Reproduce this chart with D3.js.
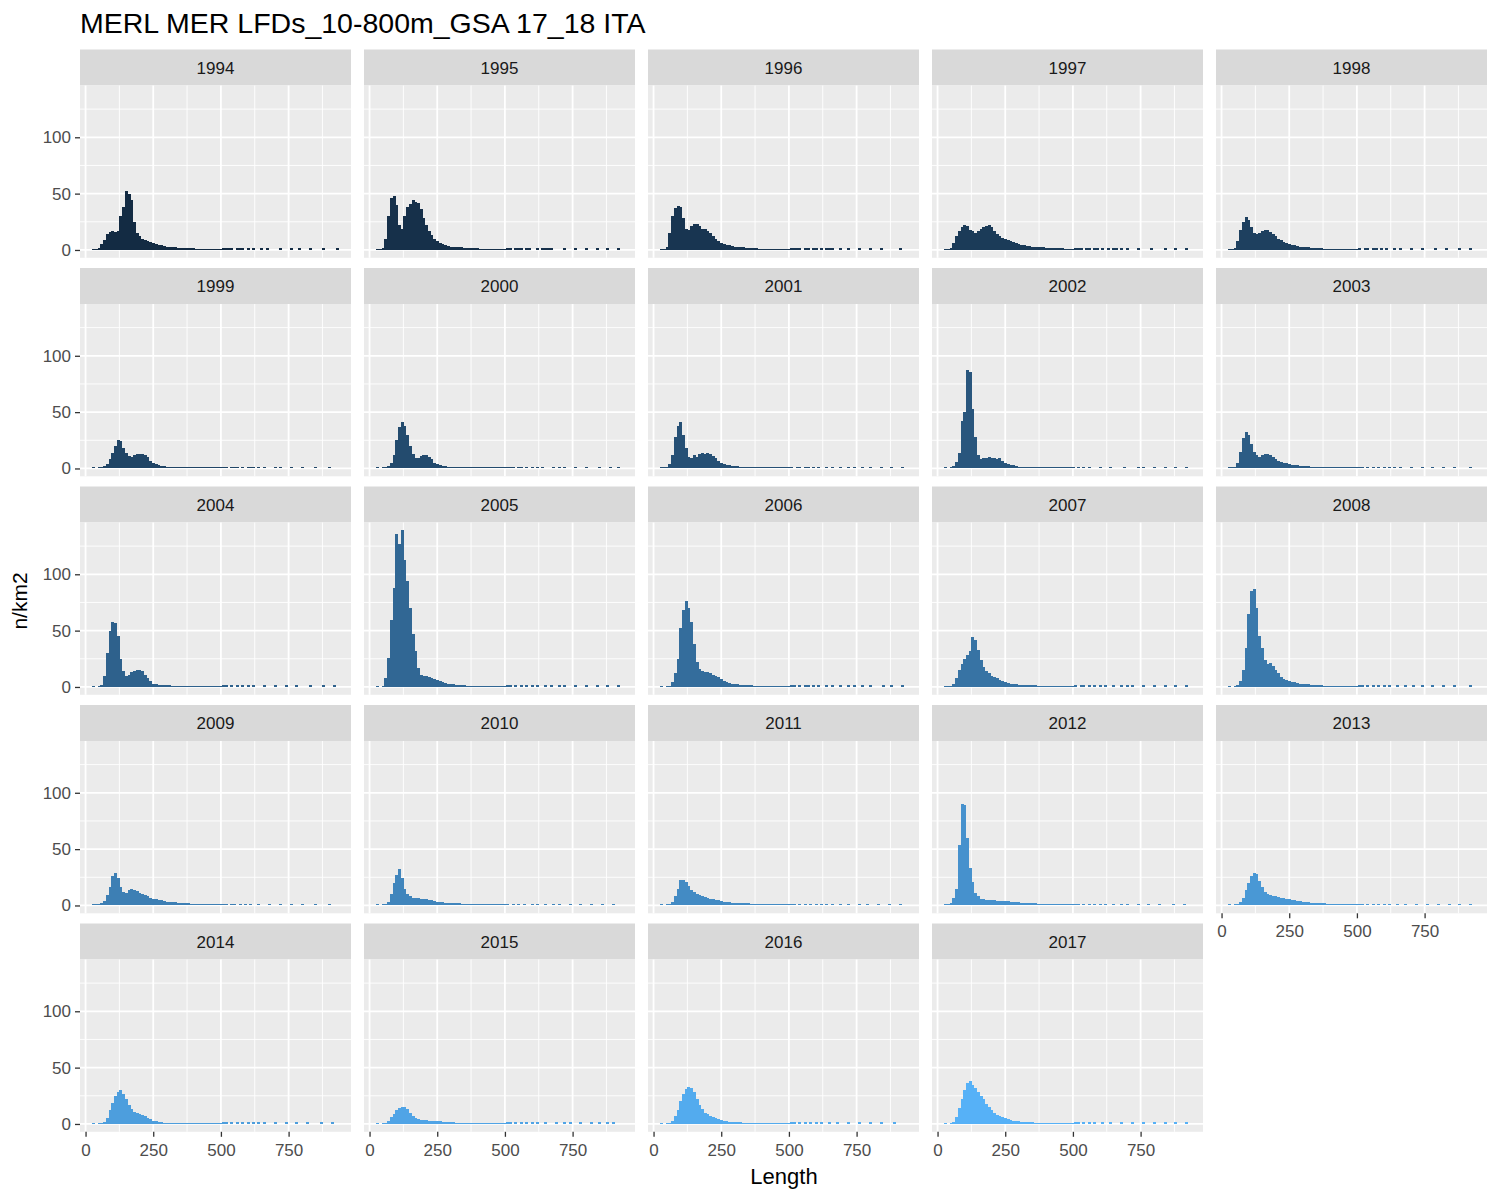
<!DOCTYPE html>
<html>

<head>
    <meta charset="utf-8">
    <style>
        body {
            margin: 0;
            background: white;
        }

        svg {
            font-family: 'Liberation Sans', Arial, sans-serif;
        }
    </style>
</head>

<body>
    <svg width="1500" height="1200"></svg>

<script src="https://d3js.org/d3.v7.min.js"></script>

<script>
    // length classes (mm, bin centres) of the continuous part of each LFD
    const bins = [30, 40, 50, 60, 70, 80, 90, 100, 110, 120, 130, 140, 150, 160, 170, 180,
        190, 200, 210, 220, 230, 240, 250, 260, 270, 280, 290, 300, 310, 320, 330, 340,
        350, 360, 370, 380, 390, 400, 410, 420, 430, 440, 450, 460, 470, 480, 490, 500]
    const binWidth = 10

    const years = [1994, 1995, 1996, 1997, 1998, 1999, 2000, 2001, 2002, 2003, 2004, 2005,
        2006, 2007, 2008, 2009, 2010, 2011, 2012, 2013, 2014, 2015, 2016, 2017]

    // n/km2 per length class
    const lf1994 = [1,1,2,5,9,14,16,17,16,17,30,38,52,50,44,25,15,12,10,9,8,7,6,5,4.5,4,3.5,3,2.7,2.4,2.2,2,1.9,1.8,1.7,1.6,1.5,1.4,1.3,1.2,1.2,1.1,1.1,1,1,1,1,1]
    const lf1995 = [1,1,2,10,30,46,48,40,22,19,30,38,41,44,43,42,36,28,22,17,13,10,8,6,5,4,3.5,3,3,2.8,2.5,2.2,2,2,1.8,1.6,1.5,1.4,1.3,1.2,1.2,1.1,1.1,1,1,1,1,1]
    const lf1996 = [1,1,3,15,30,37,39,38,28,19,18,21,23,23,21,19,19,17,15,12,10,8,6.5,5.5,4.5,4,3.5,3,2.8,2.5,2.2,2,1.8,1.6,1.5,1.4,1.3,1.2,1.1,1.1,1,1,1,1,1,1,1,1]
    const lf1997 = [1,1,2,6,12,17,20,22,21,18,17,15,17,19,20,21,22,20,17,14,12,11,10,9,8,7,6,5.5,4.5,4,3.5,3.2,3,2.8,2.6,2.4,2.2,2,2,1.8,1.7,1.6,1.5,1.4,1.3,1.2,1.1,1]
    const lf1998 = [1,1,2,8,18,25,29,27,20,15,14,15,17,18,18,16,14,12,10,8.5,7,6,5,4.5,4,3.5,3,2.7,2.5,2.2,2,1.8,1.6,1.5,1.4,1.3,1.2,1.1,1,1,1,1,1,1,1,1,1,1]
    const lf1999 = [1,0,1,1,2,4,8,14,20,25,24,18,14,11,10,12,13,13,13,12,10,7,5,4,3,2.5,2,1.6,1.4,1.2,1.1,1,1,1,1,1,1,1,1,1,1,1,1,1,1,1,1,1]
    const lf2000 = [1,0,1,1,2,5,12,25,37,41,38,30,20,13,9,9,11,12,12,10,8,5,4,3,2.5,2,1.6,1.3,1.2,1.1,1,1,1,1,1,1,1,1,1,1,1,1,1,1,1,1,1,1]
    const lf2001 = [1,1,1,4,12,28,38,41,30,18,10,9,12,10,13,14,13,14,13,11,9,7,5,4,3.5,3,2.5,2,1.8,1.6,1.5,1.4,1.3,1.2,1.1,1,1,1,1,1,1,1,1,1,1,1,1,1]
    const lf2002 = [1,0,1,2,6,14,42,50,87,86,53,28,12,8,9,9.5,10,9,9.5,8,9,7,5,4,3.5,3,2.5,1.5,1.2,1,1,1,1,1,1,1,1,1,1,1,1,1,1,1,1,1,1,1]
    const lf2003 = [1,1,1,5,15,27,32,30,22,15,12,10,12,13,13,12,10,8,7,6,5,4.5,4,3.5,3,2.7,2.4,2.2,2,1.8,1.6,1.5,1.4,1.3,1.2,1.1,1,1,1,1,1,1,1,1,1,1,1,1]
    const lf2004 = [1,0,1,2,10,30,50,58,57,45,25,14,10,11,13,14,15,15,14,11,8,5,3,2.5,2,1.8,1.6,1.5,1.4,1.3,1.2,1.1,1,1,1,1,1,1,1,1,1,1,1,1,1,1,1,1]
    const lf2005 = [1,0,1,8,26,59,88,136,127,139,113,94,70,47,32,17,11,10,9.5,9,8,7,6.5,5,4,3.5,2.7,2.5,2.2,2,1.8,1.6,1.4,1.3,1.2,1.1,1,1,1,1,1,1,1,1,1,1,1,1]
    const lf2006 = [1,0,1,1,4,12,25,52,68,76,70,58,38,22,16,14,13,13,12,11,10,9,7,5,4,3.5,3,2.5,2.2,2,1.8,1.6,1.5,1.4,1.3,1.2,1.1,1,1,1,1,1,1,1,1,1,1,1]
    const lf2007 = [1,1,1,3,8,15,20,25,28,32,44,42,33,24,18,14,12,10,9,8,6.5,5,4,3.5,3,2.6,2.3,2,1.9,1.8,1.7,1.6,1.5,1.4,1.3,1.2,1.1,1,1,1,1,1,1,1,1,1,1,1]
    const lf2008 = [1,0,1,2,5,15,35,65,85,87,70,45,35,24,20,21,19,15,12,9,7,6,5,4.5,4,3.5,3,2.7,2.4,2.2,2,1.8,1.6,1.5,1.4,1.3,1.2,1.1,1,1,1,1,1,1,1,1,1,1]
    const lf2009 = [1,1,1,2,4,9,16,26,29,24,16,12,11,14,15,14,13,11,10,9,8,7,6,5.5,5,4.5,4,3.5,3.2,3,2.7,2.5,2.3,2.1,2,1.8,1.7,1.6,1.5,1.4,1.3,1.2,1.1,1,1,1,1,1]
    const lf2010 = [1,0,1,1,3,10,20,27,32,24,15,10,8,7,6.5,6.5,6,6,5.5,5,4.5,4,3.5,3,2.8,2.6,2.4,2.2,2,1.9,1.8,1.7,1.6,1.5,1.4,1.3,1.2,1.1,1,1,1,1,1,1,1,1,1,1]
    const lf2011 = [1,0,1,1,3,8,15,23,23,21,17,14,12,10,9,8,7.5,7,6,5.5,5,4.5,4,3.5,3,2.8,2.6,2.4,2.2,2.1,2,1.9,1.8,1.7,1.6,1.5,1.4,1.3,1.2,1.1,1,1,1,1,1,1,1,1]
    const lf2012 = [1,1,2,6.5,15,54,90,89,60,33,21,11,8,6,5.5,5,5,4.8,4.6,4.4,4.2,4,3.8,3.6,3.4,3.2,3,2.8,2.6,2.4,2.2,2,1.9,1.8,1.7,1.6,1.5,1.4,1.3,1.2,1.1,1,1,1,1,1,1,1]
    const lf2013 = [1,0,1,1,3,7,14,20,26,29,28,22,16,12,10,9,8.5,8,7.5,7,6.5,6,5.5,5,4.5,4,3.6,3.2,3,2.8,2.6,2.4,2.2,2,1.9,1.8,1.7,1.6,1.5,1.4,1.3,1.2,1.1,1,1,1,1,1]
    const lf2014 = [1,0,1,1,2,5,12,19,25,28,30,27,22,17,13,11,10,9,8,7,5,4,3,2.5,2,1.5,1.3,1.1,1,1,1,1,1,1,1,1,1,1,1,1,1,1,1,1,1,1,1,1]
    const lf2015 = [1,0,1,1,3,6,9,12,14,15.5,15,13,10,7,5,4,3.5,3.3,3.2,3,2.8,2.6,2.4,2.2,2,1.8,1.6,1.5,1.4,1.3,1.2,1.1,1,1,1,1,1,1,1,1,1,1,1,1,1,1,1,1]
    const lf2016 = [1,0,1,1,3,7,12,20,27,31,33,32,28,22,17,13,10,8.5,7,6,5,4,3.5,3,2.5,2,1.8,1.6,1.5,1.4,1.3,1.2,1.1,1,1,1,1,1,1,1,1,1,1,1,1,1,1,1]
    const lf2017 = [1,0,1,2,6,14,22,30,36,38,35,32,28,25,22,18,15,12,10,8,7,6,5,4,3.5,3,2.6,2.3,2,1.8,1.6,1.5,1.4,1.3,1.2,1.1,1,1,1,1,1,1,1,1,1,1,1,1]

    // sparse large individuals above 500 mm (single low records)
    const tailValue = 1.5
    const tail1994 = [510,520,530,540,560,570,580,600,620,650,670,720,760,790,830,880,930]
    const tail1995 = [510,520,540,550,560,580,590,620,640,650,660,670,720,760,800,840,880,920]
    const tail1996 = [510,520,530,540,560,570,590,600,620,640,650,660,690,720,760,800,840,910]
    const tail1997 = [510,520,530,550,560,580,590,610,630,650,660,680,700,740,790,840,880,920]
    const tail1998 = [510,530,540,560,570,590,610,640,660,700,740,790,830,880,920]
    const tail1999 = [510,520,540,550,560,580,600,610,620,640,660,700,720,760,800,850,900]
    const tail2000 = [510,520,530,550,560,580,600,620,640,680,700,720,760,800,850,890,920]
    const tail2001 = [510,530,540,560,570,590,610,640,660,690,720,740,770,800,840,880,920]
    const tail2002 = [520,540,560,600,640,690,740,760,800,840,880,920]
    const tail2003 = [510,520,540,560,580,600,620,640,660,700,740,780,820,860,920]
    const tail2004 = [510,520,540,560,580,600,620,660,700,740,780,830,880,920]
    const tail2005 = [510,520,540,560,580,600,620,650,670,700,720,760,800,840,880,920]
    const tail2006 = [510,520,540,560,570,590,610,640,660,690,720,740,770,800,850,880,920]
    const tail2007 = [510,530,540,560,580,600,620,650,680,700,720,760,800,840,880,920]
    const tail2008 = [510,520,540,560,580,600,620,650,680,710,740,780,820,860,920]
    const tail2009 = [510,520,540,550,570,590,610,640,680,720,760,800,850,900]
    const tail2010 = [510,530,550,570,600,620,650,680,700,740,780,820,860,900]
    const tail2011 = [510,520,540,560,580,600,620,640,660,690,720,760,790,830,870,910]
    const tail2012 = [510,520,540,560,580,600,620,650,680,700,740,780,820,870,910]
    const tail2013 = [510,520,540,560,580,600,620,650,680,720,760,800,840,880,920]
    const tail2014 = [510,520,540,560,580,600,620,640,660,700,740,780,820,870,910]
    const tail2015 = [510,520,540,560,580,600,620,650,690,720,740,780,820,850,880,900]
    const tail2016 = [510,520,540,560,580,600,620,650,680,720,760,800,840,890]
    const tail2017 = [510,520,540,560,580,610,640,680,720,760,800,840,880,920]

    const yBreaks = [0, 50, 100]
    const xBreaks = [0, 250, 500, 750]
    const yMinor = [25, 75, 125]
    const xMinor = [125, 375, 625, 875]

    const bodies = [lf1994, lf1995, lf1996, lf1997, lf1998, lf1999, lf2000, lf2001, lf2002, lf2003,
        lf2004, lf2005, lf2006, lf2007, lf2008, lf2009, lf2010, lf2011, lf2012, lf2013,
        lf2014, lf2015, lf2016, lf2017]
    const tails = [tail1994, tail1995, tail1996, tail1997, tail1998, tail1999, tail2000, tail2001,
        tail2002, tail2003, tail2004, tail2005, tail2006, tail2007, tail2008, tail2009,
        tail2010, tail2011, tail2012, tail2013, tail2014, tail2015, tail2016, tail2017]

    let panels = years.map((yr, i) => {
        let rows = bins.map((L, j) => ({ len: L, n: bodies[i][j] })).filter(d => d.n > 0)
        tails[i].forEach(L => rows.push({ len: L, n: tailValue }))
        return { year: yr, rows: rows }
    })

    // layout (facet_wrap, 5 columns)
    let ncol = 5
    let panelW = 271, panelH = 172.3
    let colStep = 284, rowStep = 218.5
    let left0 = 80, top0 = 85.5
    let stripH = 36
    let fontAxis = "17px"

    let allRows = panels.flatMap(p => p.rows)
    let xlo = d3.min(allRows, d => d.len) - binWidth / 2
    let xhi = d3.max(allRows, d => d.len) + binWidth / 2
    let ymax = d3.max(allRows, d => d.n)

    let x = d3.scaleLinear()
        .domain([xlo - 0.05 * (xhi - xlo), xhi + 0.05 * (xhi - xlo)])
        .range([0, panelW])
    let y = d3.scaleLinear()
        .domain([-0.05 * ymax, ymax * 1.05])
        .range([panelH, 0])

    let color = d3.scaleLinear()
        .domain([d3.min(years), d3.max(years)])
        .range(["#132B43", "#56B1F7"])
        .interpolate(d3.interpolateLab)

    let svg = d3.select("svg")

    svg.append("text")
        .attr("x", 80)
        .attr("y", 33)
        .style("font-size", "28.5px")
        .style("fill", "black")
        .text("MERL MER LFDs_10-800m_GSA 17_18 ITA")

    let n = panels.length

    panels.forEach((p, i) => {
        let c = i % ncol
        let r = Math.floor(i / ncol)
        let g = svg.append("g")
            .attr("transform", `translate(${left0 + c * colStep},${top0 + r * rowStep})`)

        // strip
        g.append("rect")
            .attr("x", 0).attr("y", -stripH)
            .attr("width", panelW).attr("height", stripH)
            .style("fill", "#D9D9D9")
        g.append("text")
            .attr("x", panelW / 2).attr("y", -stripH / 2 + 6)
            .attr("text-anchor", "middle")
            .style("font-size", fontAxis)
            .style("fill", "#1A1A1A")
            .text(p.year)

        // panel background + grid
        g.append("rect")
            .attr("width", panelW).attr("height", panelH)
            .style("fill", "#EBEBEB")

        g.selectAll(".ymin").data(yMinor).join("line")
            .attr("x1", 0).attr("x2", panelW)
            .attr("y1", d => y(d)).attr("y2", d => y(d))
            .style("stroke", "white").style("stroke-width", 0.9)
        g.selectAll(".xmin").data(xMinor).join("line")
            .attr("y1", 0).attr("y2", panelH)
            .attr("x1", d => x(d)).attr("x2", d => x(d))
            .style("stroke", "white").style("stroke-width", 0.9)
        g.selectAll(".ymaj").data(yBreaks).join("line")
            .attr("x1", 0).attr("x2", panelW)
            .attr("y1", d => y(d)).attr("y2", d => y(d))
            .style("stroke", "white").style("stroke-width", 1.8)
        g.selectAll(".xmaj").data(xBreaks).join("line")
            .attr("y1", 0).attr("y2", panelH)
            .attr("x1", d => x(d)).attr("x2", d => x(d))
            .style("stroke", "white").style("stroke-width", 1.8)

        // bars
        g.selectAll(".bar").data(p.rows).join("rect")
            .attr("x", d => x(d.len - binWidth / 2))
            .attr("width", d => x(d.len + binWidth / 2) - x(d.len - binWidth / 2) + 0.3)
            .attr("y", d => y(d.n))
            .attr("height", d => y(0) - y(d.n))
            .attr("shape-rendering", "crispEdges")
            .style("fill", color(p.year))

        // y axis on first column
        if (c == 0) {
            let ya = g.append("g")
                .call(d3.axisLeft(y).tickValues(yBreaks).tickSize(5).tickPadding(4))
            ya.select(".domain").remove()
            ya.selectAll("line").style("stroke", "#333333").style("stroke-width", 1.3)
            ya.selectAll("text").style("font-size", fontAxis).style("fill", "#4D4D4D")
                .style("font-family", "'Liberation Sans', Arial, sans-serif")
        }

        // x axis under the bottom panel of each column
        if (i + ncol >= n) {
            let xa = g.append("g")
                .attr("transform", `translate(0,${panelH})`)
                .call(d3.axisBottom(x).tickValues(xBreaks).tickSize(5).tickPadding(7))
            xa.select(".domain").remove()
            xa.selectAll("line").style("stroke", "#333333").style("stroke-width", 1.3)
            xa.selectAll("text").style("font-size", fontAxis).style("fill", "#4D4D4D")
                .style("font-family", "'Liberation Sans', Arial, sans-serif")
        }
    })

    // axis titles
    svg.append("text")
        .attr("x", 784)
        .attr("y", 1184)
        .attr("text-anchor", "middle")
        .style("font-size", "22px")
        .style("fill", "black")
        .text("Length")

    svg.append("text")
        .attr("transform", "translate(27,601) rotate(-90)")
        .attr("text-anchor", "middle")
        .style("font-size", "21px")
        .style("fill", "black")
        .text("n/km2")
</script>
</body>

</html>
